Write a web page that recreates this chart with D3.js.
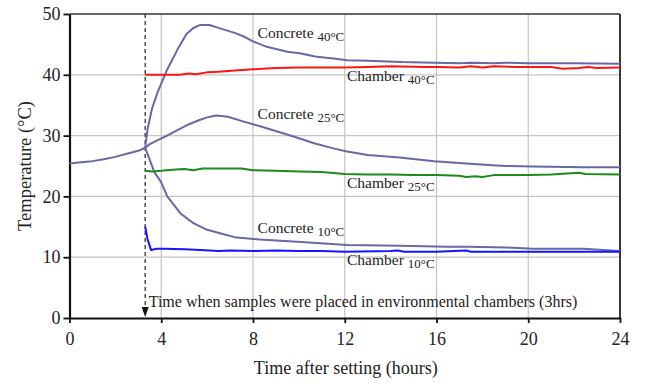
<!DOCTYPE html>
<html><head><meta charset="utf-8">
<script src="https://cdn.jsdelivr.net/npm/d3@7"></script>
<style>
html,body{margin:0;padding:0;background:#fff;}
svg{display:block;font-family:"Liberation Serif","Times New Roman",serif;}
</style></head>
<body>
<script>
// ---------- data ----------
const xTicks = [0, 4, 8, 12, 16, 20, 24];
const yTicks = [0, 10, 20, 30, 40, 50];
const placeHour = 3.3;

const preHours  = [0, 0.5, 1, 1.5, 2, 2.5, 3, 3.3];
const preTemps  = [25.4, 25.6, 25.8, 26.1, 26.5, 27.0, 27.5, 28.0];

const c40Hours = [3.3, 3.4, 3.6, 3.85, 4.25, 4.7, 5.1, 5.4, 5.7, 6.1, 6.6, 7.2, 7.6, 8.0, 8.6, 9.5, 10.1, 10.7, 11.5, 12.1, 13.0, 13.9, 14.5, 15.9, 17.0, 17.5, 18.5, 19.0, 20, 22, 24];
const c40Temps = [28.0, 31.0, 34.5, 37.2, 40.8, 44.1, 46.7, 47.7, 48.2, 48.2, 47.6, 46.9, 46.3, 45.5, 44.6, 43.8, 43.5, 43.0, 42.7, 42.4, 42.3, 42.2, 42.1, 42.0, 41.9, 42.0, 41.9, 42.0, 41.9, 41.9, 41.8];

const ch40Hours = [3.3, 4, 4.8, 5.2, 5.5, 6.0, 6.5, 7.2, 8, 9, 10, 11, 12, 13, 14, 15.5, 16, 17, 17.5, 18, 18.5, 19.5, 20, 21, 21.5, 22.2, 22.6, 23, 24];
const ch40Temps = [40.0, 40.0, 40.0, 40.2, 40.1, 40.4, 40.5, 40.7, 40.9, 41.1, 41.2, 41.2, 41.2, 41.3, 41.4, 41.3, 41.3, 41.2, 41.4, 41.2, 41.4, 41.3, 41.3, 41.3, 41.0, 41.1, 41.3, 41.1, 41.2];

const c25Hours = [3.3, 3.5, 4.25, 5.1, 5.7, 6.0, 6.4, 6.9, 7.6, 8.6, 9.8, 10.7, 11.5, 12.1, 13, 14.4, 15.9, 17, 18.1, 19, 20.2, 22.4, 24];
const c25Temps = [28.0, 28.6, 30.0, 31.7, 32.6, 33.0, 33.3, 33.1, 32.3, 31.2, 29.8, 28.7, 27.9, 27.4, 26.8, 26.4, 25.8, 25.5, 25.2, 25.0, 24.9, 24.8, 24.8];

const ch25Hours = [3.3, 3.6, 4, 4.5, 5, 5.4, 5.8, 6.5, 7.5, 8, 9, 10, 11, 12, 13, 14, 15, 16, 17, 17.3, 17.7, 18, 18.5, 20, 21, 22.2, 22.5, 24];
const ch25Temps = [24.2, 24.1, 24.2, 24.4, 24.5, 24.3, 24.6, 24.6, 24.6, 24.3, 24.2, 24.1, 24.0, 23.7, 23.6, 23.6, 23.5, 23.5, 23.4, 23.2, 23.3, 23.2, 23.5, 23.5, 23.6, 23.9, 23.7, 23.6];

const c10Hours = [3.3, 3.4, 3.7, 4.0, 4.26, 4.84, 5.4, 6.0, 6.6, 7.2, 8.3, 10.1, 12.1, 14.4, 16.5, 17.4, 19, 20.2, 22.4, 24];
const c10Temps = [28.0, 27.0, 24.0, 22.3, 20.0, 17.2, 15.6, 14.5, 13.9, 13.3, 12.9, 12.5, 12.0, 11.9, 11.7, 11.7, 11.6, 11.4, 11.4, 11.0];

const ch10Hours = [3.3, 3.4, 3.55, 3.8, 4.2, 5, 5.7, 6.5, 7, 8, 9, 10, 11, 12, 14, 14.3, 14.6, 16, 17.3, 17.5, 20, 24];
const ch10Temps = [15.0, 13.0, 11.2, 11.4, 11.4, 11.3, 11.2, 11.0, 11.1, 11.0, 11.1, 11.0, 11.0, 10.9, 11.0, 11.1, 10.9, 10.9, 11.1, 10.9, 10.9, 10.9];

const labelNames  = ["Concrete", "Chamber", "Concrete", "Chamber", "Concrete", "Chamber"];
const labelSubs   = ["40°C", "40°C", "25°C", "25°C", "10°C", "10°C"];
const labelHours  = [8.2, 12.1, 8.2, 12.1, 8.2, 12.1];
const labelTemps  = [46.0, 38.9, 32.8, 21.3, 13.9, 8.7];

// ---------- layout ----------
const W = 646, H = 384;
const m = {left: 69.5, right: 26, top: 14, bottom: 66};
const x = d3.scaleLinear().domain([0, 24]).range([m.left, W - m.right]);
const y = d3.scaleLinear().domain([0, 50]).range([H - m.bottom, m.top]);

const svg = d3.select("body").append("svg").attr("width", W).attr("height", H);

// grid
svg.append("g").selectAll("line").data(xTicks.slice(1, -1)).join("line")
  .attr("x1", d => x(d)).attr("x2", d => x(d)).attr("y1", y(0)).attr("y2", y(50))
  .attr("stroke", "#c4c4c4").attr("stroke-width", 1.2);
svg.append("g").selectAll("line").data(yTicks.slice(1, -1)).join("line")
  .attr("x1", x(0)).attr("x2", x(24)).attr("y1", d => y(d)).attr("y2", d => y(d))
  .attr("stroke", "#c4c4c4").attr("stroke-width", 1.2);

// frame top/right
svg.append("line").attr("x1", x(0)).attr("x2", x(24)).attr("y1", y(50)).attr("y2", y(50))
  .attr("stroke", "#333").attr("stroke-width", 1.6);
svg.append("line").attr("x1", x(24)).attr("x2", x(24)).attr("y1", y(50)).attr("y2", y(0))
  .attr("stroke", "#222").attr("stroke-width", 1.8);

// axes
const xAxis = svg.append("g").attr("transform", `translate(0,${y(0)})`)
  .call(d3.axisBottom(x).tickValues(xTicks).tickSize(5).tickPadding(9).tickSizeOuter(0));
const yAxis = svg.append("g").attr("transform", `translate(${x(0)},0)`)
  .call(d3.axisLeft(y).tickValues(yTicks).tickSize(6).tickPadding(3).tickSizeOuter(0));
[xAxis, yAxis].forEach(g => {
  g.select(".domain").attr("stroke", "#111").attr("stroke-width", 2.2);
  g.selectAll(".tick line").attr("stroke", "#111").attr("stroke-width", 1.8);
  g.selectAll(".tick text").attr("font-family", "Liberation Serif, serif")
    .attr("font-size", 18).attr("fill", "#222");
});

// axis titles
svg.append("text").attr("x", (x(0) + x(24)) / 2 + 1).attr("y", 374)
  .attr("text-anchor", "middle").attr("font-size", 18).attr("fill", "#222")
  .text("Time after setting (hours)");
svg.append("text").attr("transform", `translate(31,${(y(0) + y(50)) / 2}) rotate(-90)`)
  .attr("text-anchor", "middle").attr("font-size", 18.5).attr("fill", "#222")
  .text("Temperature (°C)");

// dashed marker
svg.append("line").attr("x1", x(placeHour)).attr("x2", x(placeHour))
  .attr("y1", y(50)).attr("y2", y(0) - 10)
  .attr("stroke", "#333").attr("stroke-width", 1.3).attr("stroke-dasharray", "4,3");
svg.append("path")
  .attr("d", `M${x(placeHour) - 3.5},${y(0) - 11} L${x(placeHour) + 3.5},${y(0) - 11} L${x(placeHour)},${y(0) - 1} Z`)
  .attr("fill", "#111");
svg.append("text").attr("x", x(placeHour) + 3.5).attr("y", 307)
  .attr("font-size", 16).attr("fill", "#222")
  .text("Time when samples were placed in environmental chambers (3hrs)");

// lines
const line = d3.line().x(d => x(d[0])).y(d => y(d[1]));
const series = [
  [preHours, preTemps, "#6868a6"],
  [c40Hours, c40Temps, "#6868a6"],
  [c25Hours, c25Temps, "#6868a6"],
  [c10Hours, c10Temps, "#6868a6"],
  [ch40Hours, ch40Temps, "#ff1414"],
  [ch25Hours, ch25Temps, "#1c8a1c"],
  [ch10Hours, ch10Temps, "#1414ff"]
];
series.forEach(([hs, ts, col]) => {
  svg.append("path").datum(hs.map((h, i) => [h, ts[i]]))
    .attr("d", line).attr("fill", "none").attr("stroke", col)
    .attr("stroke-width", 2).attr("stroke-linejoin", "round");
});

// labels
labelNames.forEach((n, i) => {
  const t = svg.append("text").attr("x", x(labelHours[i])).attr("y", y(labelTemps[i]))
    .attr("font-size", 15.5).attr("fill", "#222");
  t.append("tspan").text(n + " ");
  t.append("tspan").attr("font-size", 13).attr("dy", 3).text(labelSubs[i]);
});
</script>
</body></html>
